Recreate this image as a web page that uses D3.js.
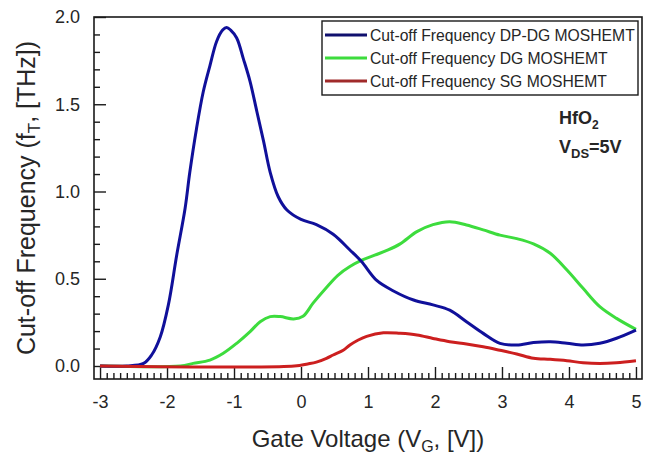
<!DOCTYPE html>
<html>
<head>
<meta charset="utf-8">
<script src="https://cdn.jsdelivr.net/npm/d3@7"></script>
<style>
  html, body { margin: 0; padding: 0; background: #fff; }
  svg { display: block; }
  text { font-family: "Liberation Sans", Arial, sans-serif; fill: #262626; }
</style>
</head>
<body>
<svg id="chart" width="653" height="454"></svg>
<script>
// ---- data ----
const dpdgV = [-3, -2.6, -2.35, -2.23, -2.10, -1.98, -1.855, -1.73, -1.66, -1.56, -1.46, -1.36, -1.26, -1.17, -1.11, -1.05, -0.96, -0.86, -0.76, -0.66, -0.56, -0.46, -0.34, -0.21, 0.0, 0.23, 0.48, 0.73, 0.9, 1.13, 1.38, 1.68, 1.97, 2.22, 2.47, 2.72, 2.97, 3.22, 3.47, 3.72, 3.97, 4.21, 4.46, 4.71, 5.0];
const dpdgF = [0, 0, 0.015, 0.063, 0.168, 0.35, 0.636, 0.904, 1.11, 1.36, 1.57, 1.72, 1.86, 1.925, 1.94, 1.925, 1.88, 1.76, 1.63, 1.46, 1.29, 1.11, 0.97, 0.894, 0.84, 0.81, 0.755, 0.665, 0.60, 0.49, 0.43, 0.378, 0.35, 0.32, 0.254, 0.187, 0.13, 0.12, 0.134, 0.139, 0.13, 0.12, 0.13, 0.159, 0.206];

const dgV = [-3, -1.8, -1.61, -1.36, -1.16, -0.96, -0.76, -0.61, -0.46, -0.31, -0.11, 0.03, 0.18, 0.38, 0.55, 0.73, 0.9, 1.1, 1.3, 1.48, 1.73, 1.97, 2.22, 2.47, 2.72, 2.97, 3.22, 3.47, 3.72, 3.97, 4.21, 4.46, 4.71, 5.0];
const dgF = [0, 0, 0.015, 0.034, 0.073, 0.13, 0.197, 0.254, 0.283, 0.283, 0.27, 0.285, 0.36, 0.45, 0.52, 0.57, 0.605, 0.635, 0.665, 0.70, 0.77, 0.81, 0.827, 0.808, 0.78, 0.75, 0.73, 0.70, 0.646, 0.55, 0.445, 0.34, 0.273, 0.21];

const sgV = [-3, -0.1, 0.1, 0.23, 0.38, 0.48, 0.63, 0.73, 0.855, 0.98, 1.23, 1.48, 1.73, 1.97, 2.22, 2.47, 2.72, 2.97, 3.22, 3.47, 3.72, 3.97, 4.21, 4.46, 4.71, 5.0];
const sgF = [0, 0, 0.012, 0.022, 0.044, 0.063, 0.09, 0.12, 0.149, 0.17, 0.19, 0.187, 0.178, 0.158, 0.139, 0.126, 0.11, 0.09, 0.069, 0.044, 0.038, 0.03, 0.019, 0.015, 0.019, 0.03];

const seriesNames = ["Cut-off Frequency DP-DG MOSHEMT", "Cut-off Frequency DG MOSHEMT", "Cut-off Frequency SG MOSHEMT"];
const seriesColors = ["#10109a", "#3ddc3d", "#cc1f1f"];
const legendColors = ["#10106e", "#3ddc3d", "#a02a2a"];

const xTicks = [-3, -2, -1, 0, 1, 2, 3, 4, 5];
const yTicks = [0.0, 0.5, 1.0, 1.5, 2.0];

// ---- layout ----
const L = 94, R = 642, T = 17, B = 379;
const svg = d3.select("#chart");

const x = d3.scaleLinear().domain([-3.09, 5.09]).range([L, R]);
const y = d3.scaleLinear().domain([-0.0745, 2.0]).range([B, T]);

// minor ticks
const xMinor = d3.range(-30, 51).map(d => d / 10).filter(d => Math.abs(d - Math.round(d)) > 1e-6);
const yMinor = d3.range(0, 21).map(d => d / 10).filter(d => Math.abs(d * 2 - Math.round(d * 2)) > 1e-6);

const gx = svg.append("g").attr("transform", `translate(0,${B})`)
  .call(d3.axisBottom(x).tickValues(xTicks).tickSize(-12).tickPadding(16).tickFormat(d => String(d)));
const gxm = svg.append("g").attr("transform", `translate(0,${B})`)
  .call(d3.axisBottom(x).tickValues(xMinor).tickSize(-6).tickFormat(""));
const gy = svg.append("g").attr("transform", `translate(${L},0)`)
  .call(d3.axisLeft(y).tickValues(yTicks).tickSize(-12).tickPadding(14).tickFormat(d => d.toFixed(1)));
const gym = svg.append("g").attr("transform", `translate(${L},0)`)
  .call(d3.axisLeft(y).tickValues(yMinor).tickSize(-6).tickFormat(""));

[gx, gxm, gy, gym].forEach(g => {
  g.select(".domain").remove();
  g.selectAll(".tick line").attr("stroke", "#1a1a1a").attr("stroke-width", 1.4);
  g.selectAll(".tick text").style("font-size", "18px").attr("fill", "#333")
    .style("font-family", "'Liberation Sans', Arial, sans-serif");
});

// lines
const line = d3.line().x(d => x(d[0])).y(d => y(d[1])).curve(d3.curveCatmullRom.alpha(0.5));
const data = [
  d3.zip(dpdgV, dpdgF),
  d3.zip(dgV, dgF),
  d3.zip(sgV, sgF)
];
const order = [1, 0, 2];
order.forEach(i => {
  svg.append("path").datum(data[i])
    .attr("d", line)
    .attr("fill", "none")
    .attr("stroke", seriesColors[i])
    .attr("stroke-width", 3)
    .attr("stroke-linejoin", "round");
});

// frame
svg.append("rect").attr("x", L).attr("y", T).attr("width", R - L).attr("height", B - T)
  .attr("fill", "none").attr("stroke", "#1a1a1a").attr("stroke-width", 1.6);

// legend
const lg = svg.append("g");
lg.append("rect").attr("x", 322).attr("y", 21).attr("width", 316).attr("height", 74)
  .attr("fill", "#fff").attr("stroke", "#1a1a1a").attr("stroke-width", 1.4);
seriesNames.forEach((name, i) => {
  const ly = 35 + i * 23;
  lg.append("line").attr("x1", 325).attr("x2", 367).attr("y1", ly).attr("y2", ly)
    .attr("stroke", legendColors[i]).attr("stroke-width", 3);
  lg.append("text").attr("x", 370).attr("y", ly + 5.5)
    .style("font-size", "15.7px").attr("fill", "#333").text(name);
});

// annotation
const a1 = svg.append("text").attr("x", 559).attr("y", 124)
  .style("font-size", "18px").style("font-weight", "bold");
a1.append("tspan").text("HfO");
a1.append("tspan").attr("dy", 5).style("font-size", "12px").text("2");

const a2 = svg.append("text").attr("x", 559).attr("y", 153)
  .style("font-size", "18px").style("font-weight", "bold");
a2.append("tspan").text("V");
a2.append("tspan").attr("dy", 5).style("font-size", "13px").text("DS");
a2.append("tspan").attr("dy", -5).text("=5V");

// axis titles
const xl = svg.append("text").attr("x", (L + R) / 2).attr("y", 447)
  .attr("text-anchor", "middle").style("font-size", "24px").attr("fill", "#333");
xl.append("tspan").text("Gate Voltage (V");
xl.append("tspan").attr("dy", 5).style("font-size", "16px").text("G");
xl.append("tspan").attr("dy", -5).text(", [V])");

const yl = svg.append("text")
  .attr("transform", `translate(35,${(T + B) / 2}) rotate(-90)`)
  .attr("text-anchor", "middle").style("font-size", "25px").attr("fill", "#333");
yl.append("tspan").text("Cut-off Frequency (f");
yl.append("tspan").attr("dy", 5).style("font-size", "17px").text("T");
yl.append("tspan").attr("dy", -5).text(", [THz])");
</script>
</body>
</html>
